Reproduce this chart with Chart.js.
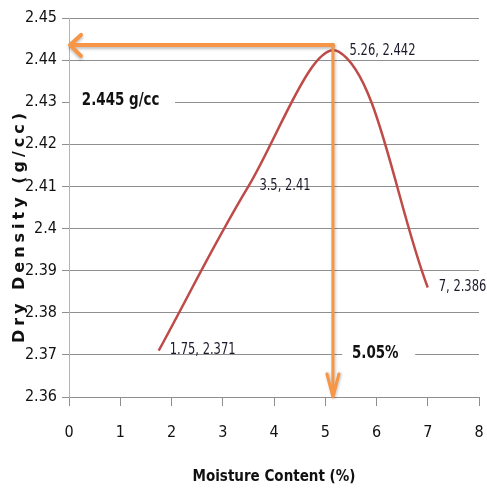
<!DOCTYPE html>
<html>
<head>
<meta charset="utf-8">
<script src="https://cdn.jsdelivr.net/npm/chart.js@4/dist/chart.umd.min.js"></script>
<style>
  html, body { margin: 0; padding: 0; background: #fff; }
  #wrap { width: 487px; height: 496px; }
</style>
</head>
<body>
<div id="wrap"><canvas id="myChart" width="487" height="496"></canvas></div>
<script>
// data
const moisture = [1.75, 3.5, 5.26, 7];
const density = [2.371, 2.41, 2.442, 2.386];
const pointLabels = ['1.75, 2.371', '3.5, 2.41', '5.26, 2.442', '7, 2.386'];
const xTicks = [0, 1, 2, 3, 4, 5, 6, 7, 8];
const yTicks = [2.36, 2.37, 2.38, 2.39, 2.40, 2.41, 2.42, 2.43, 2.44, 2.45];
const yTickLabels = ['2.36', '2.37', '2.38', '2.39', '2.4', '2.41', '2.42', '2.43', '2.44', '2.45'];
// optimum read-off lines (orange arrows) and their notes
const optimumMoisture = 5.15;
const optimumDensity = 2.4436;
const densityNote = '2.445 g/cc';
const moistureNote = '5.05%';

const narrow = '"Liberation Sans Narrow", "DejaVu Sans Condensed", sans-serif';
const orange = '#F79646';
const gridGray = '#8f8f8f';

// draw text squeezed horizontally, the reference uses a narrow font
function narrowText(ctx, text, x, y, squeeze) {
    ctx.save();
    ctx.translate(x, y);
    ctx.scale(squeeze, 1);
    ctx.fillText(text, 0, 0);
    ctx.restore();
}

const labelsPlugin = {
    id: 'extras',
    afterDatasetsDraw(chart) {
        const ctx = chart.ctx;
        const xs = chart.scales.x, ys = chart.scales.y;
        const area = chart.chartArea;

        // notes with white boxes over the grid
        ctx.save();
        ctx.font = 'bold 17px ' + narrow;
        ctx.textBaseline = 'middle';
        ctx.fillStyle = '#fff';
        ctx.fillRect(area.left + 1, ys.getPixelForValue(2.4305) - 11, 105, 22);
        ctx.fillRect(xs.getPixelForValue(5.33), ys.getPixelForValue(2.3704) - 11, 73, 22);
        ctx.fillStyle = '#111';
        narrowText(ctx, densityNote, xs.getPixelForValue(0.25), ys.getPixelForValue(2.4305), 0.88);
        narrowText(ctx, moistureNote, xs.getPixelForValue(5.52), ys.getPixelForValue(2.3704), 0.88);
        ctx.restore();

        // orange arrows
        const px = xs.getPixelForValue(optimumMoisture);
        const py = ys.getPixelForValue(optimumDensity);
        ctx.save();
        ctx.strokeStyle = orange;
        ctx.lineCap = 'round';
        ctx.lineJoin = 'round';
        ctx.shadowColor = 'rgba(0,0,0,0.25)';
        ctx.shadowOffsetY = 2;
        ctx.shadowBlur = 3;
        ctx.lineWidth = 4;
        ctx.beginPath();
        ctx.moveTo(px, py);
        ctx.lineTo(area.left + 1, py);
        ctx.moveTo(area.left + 12, py - 10);
        ctx.lineTo(area.left + 1, py);
        ctx.lineTo(area.left + 12, py + 11);
        ctx.stroke();
        ctx.lineWidth = 3;
        ctx.shadowOffsetY = 0;
        ctx.shadowOffsetX = 1;
        ctx.beginPath();
        ctx.moveTo(px, py);
        ctx.lineTo(px, area.bottom);
        ctx.moveTo(px - 6, area.bottom - 23);
        ctx.lineTo(px, area.bottom);
        ctx.lineTo(px + 6, area.bottom - 23);
        ctx.stroke();
        ctx.restore();

        // point labels
        ctx.save();
        ctx.font = '16px ' + narrow;
        ctx.fillStyle = '#1a1a2a';
        ctx.textBaseline = 'middle';
        const meta = chart.getDatasetMeta(0);
        meta.data.forEach((pt, i) => {
            narrowText(ctx, pointLabels[i], pt.x + 11, pt.y - 1, 0.8);
        });
        ctx.restore();

        // y axis title with wide letter spacing
        ctx.save();
        ctx.translate(20, 226);
        ctx.rotate(-Math.PI / 2);
        ctx.font = 'bold 16px "DejaVu Sans", sans-serif';
        ctx.letterSpacing = '4px';
        ctx.fillStyle = '#111';
        ctx.textAlign = 'center';
        ctx.textBaseline = 'middle';
        ctx.fillText('Dry Density (g/cc)', 0, 0);
        ctx.restore();
    }
};

const ctx = document.getElementById('myChart');
new Chart(ctx, {
    type: 'scatter',
    data: {
        datasets: [{
            data: moisture.map((m, i) => ({ x: m, y: density[i] })),
            showLine: true,
            borderColor: '#BE4B48',
            borderWidth: 2.5,
            pointRadius: 0,
            tension: 0.36,
            fill: false
        }]
    },
    options: {
        responsive: false,
        animation: false,
        layout: { padding: { top: 18, right: 8, left: 0, bottom: 0 } },
        plugins: {
            legend: { display: false },
            tooltip: { enabled: false }
        },
        scales: {
            x: {
                type: 'linear',
                min: xTicks[0],
                max: xTicks[xTicks.length - 1],
                afterFit(scale) {
                    scale.height = 99;
                    scale.paddingLeft = 0;
                    scale.paddingRight = 0;
                },
                afterBuildTicks(scale) { scale.ticks = xTicks.map(v => ({ value: v })); },
                grid: { drawOnChartArea: false, drawTicks: true, tickLength: 9, color: gridGray },
                border: { display: false },
                ticks: {
                    padding: 17,
                    color: '#111',
                    font: { family: narrow, size: 16 }
                },
                title: {
                    display: true,
                    text: 'Moisture Content (%)',
                    color: '#111',
                    font: { family: narrow, size: 15, weight: 'bold' },
                    padding: { top: 0, bottom: 10 }
                }
            },
            y: {
                min: yTicks[0],
                max: yTicks[yTicks.length - 1],
                afterFit(scale) { scale.width = 69; },
                afterBuildTicks(scale) { scale.ticks = yTicks.map(v => ({ value: v })); },
                grid: { color: gridGray, tickLength: 7, lineWidth: 1 },
                border: { display: true, color: '#b5b5b5', width: 1 },
                ticks: {
                    padding: 5,
                    color: '#111',
                    font: { family: narrow, size: 16 },
                    callback: (v, i) => yTickLabels[i]
                }
            }
        }
    },
    plugins: [labelsPlugin]
});
</script>
</body>
</html>
